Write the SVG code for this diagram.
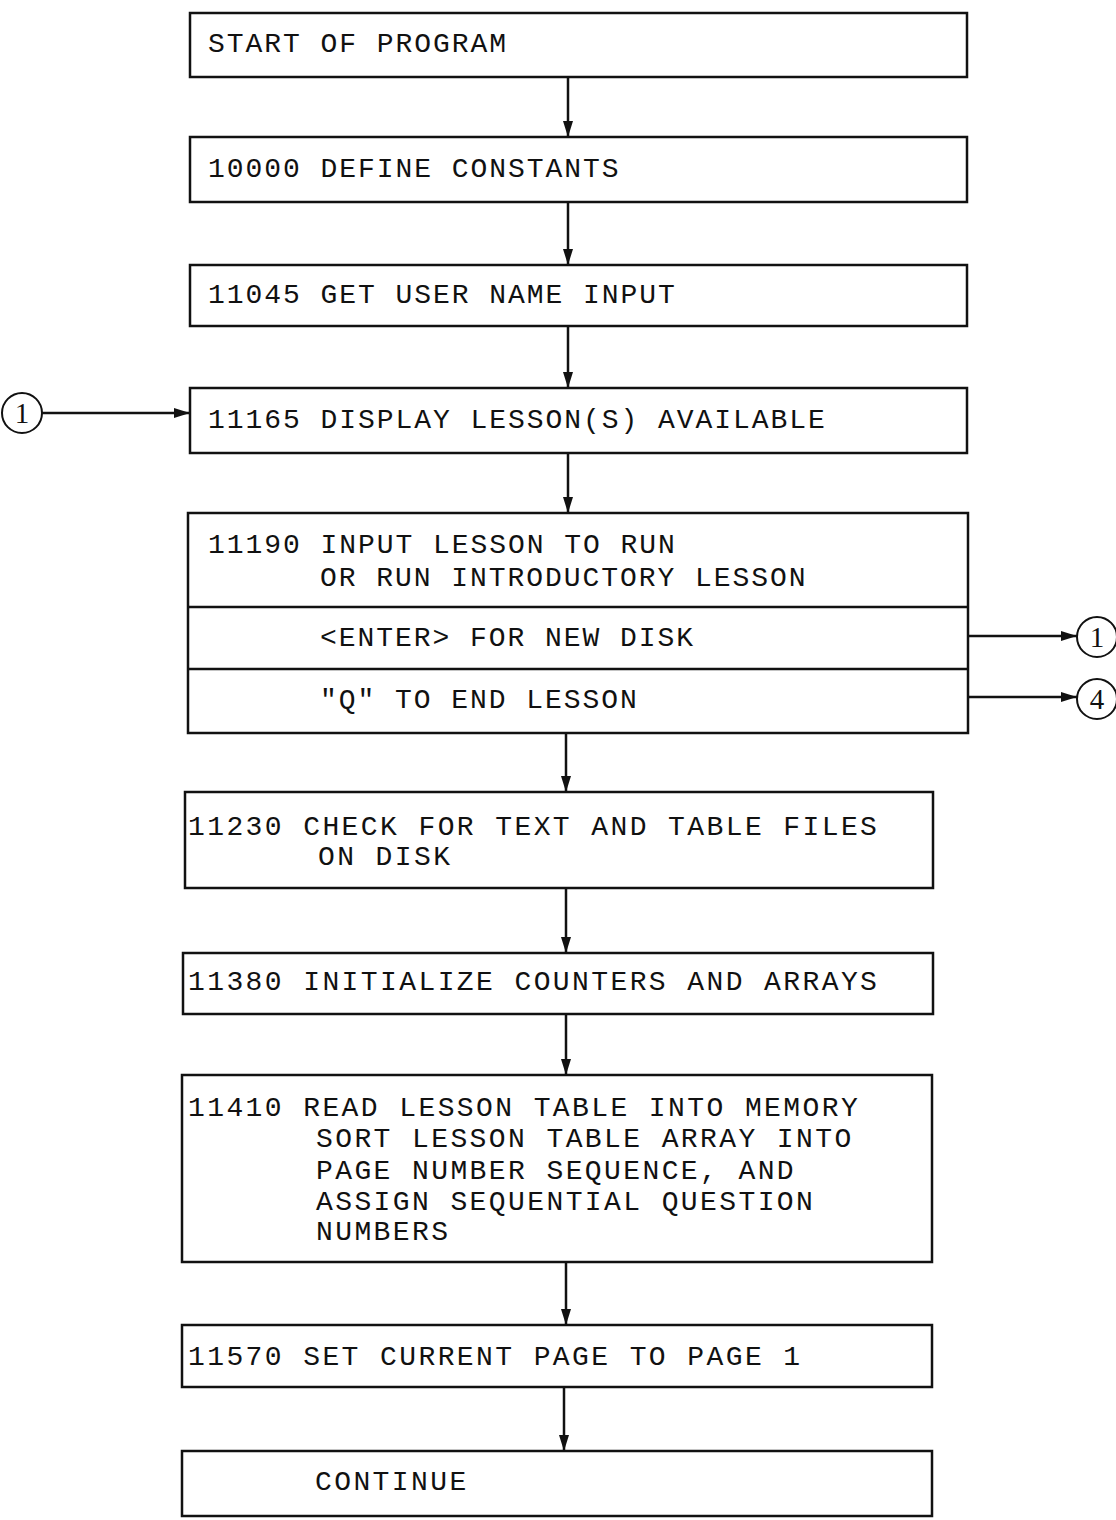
<svg xmlns="http://www.w3.org/2000/svg" width="1116" height="1520" viewBox="0 0 1116 1520">
<style>
.box{fill:#fff;stroke:#111;stroke-width:2.5}
.div{stroke:#111;stroke-width:2.5}
.t{font-family:"Liberation Mono","DejaVu Sans Mono",monospace;font-size:28px;fill:#111;letter-spacing:1.95px}
.t2{font-family:"Liberation Mono","DejaVu Sans Mono",monospace;font-size:28px;fill:#111;letter-spacing:2.4px}
.c{fill:#fff;stroke:#111;stroke-width:2}
.ct{font-family:"Liberation Serif","DejaVu Serif",serif;font-size:29px;fill:#111;text-anchor:middle}
.edge{stroke:#111;stroke-width:2.5;fill:none}
</style>
<defs>
<marker id="ah" markerWidth="16" markerHeight="10" refX="16" refY="5" viewBox="0 0 16 10" orient="auto" markerUnits="userSpaceOnUse">
<path d="M0,0 L16,5 L0,10 Z" fill="#111"/>
</marker>
</defs>
<g id="connectors">
<line class="edge" x1="568" y1="77" x2="568" y2="137" marker-end="url(#ah)"/>
<line class="edge" x1="568" y1="202" x2="568" y2="265" marker-end="url(#ah)"/>
<line class="edge" x1="568" y1="326" x2="568" y2="388" marker-end="url(#ah)"/>
<line class="edge" x1="42" y1="413" x2="190" y2="413" marker-end="url(#ah)"/>
<line class="edge" x1="568" y1="453" x2="568" y2="513" marker-end="url(#ah)"/>
<line class="edge" x1="968" y1="636" x2="1077" y2="636" marker-end="url(#ah)"/>
<line class="edge" x1="968" y1="697" x2="1077" y2="697" marker-end="url(#ah)"/>
<line class="edge" x1="566" y1="733" x2="566" y2="792" marker-end="url(#ah)"/>
<line class="edge" x1="566" y1="888" x2="566" y2="953" marker-end="url(#ah)"/>
<line class="edge" x1="566" y1="1014" x2="566" y2="1075" marker-end="url(#ah)"/>
<line class="edge" x1="566" y1="1262" x2="566" y2="1325" marker-end="url(#ah)"/>
<line class="edge" x1="564" y1="1387" x2="564" y2="1451" marker-end="url(#ah)"/>
</g>
<g id="start">
<rect class="box" x="190" y="13" width="777" height="64"/>
<text class="t" x="208" y="52">START OF PROGRAM</text>
</g>
<g id="n10000">
<rect class="box" x="190" y="137" width="777" height="65"/>
<text class="t" x="208" y="177">10000 DEFINE CONSTANTS</text>
</g>
<g id="n11045">
<rect class="box" x="190" y="265" width="777" height="61"/>
<text class="t" x="208" y="303">11045 GET USER NAME INPUT</text>
</g>
<g id="n11165">
<rect class="box" x="190" y="388" width="777" height="65"/>
<text class="t" x="208" y="428">11165 DISPLAY LESSON(S) AVAILABLE</text>
</g>
<g id="n11190">
<rect class="box" x="188" y="513" width="780" height="220"/>
<line class="div" x1="188" y1="607" x2="968" y2="607"/>
<line class="div" x1="188" y1="669" x2="968" y2="669"/>
<text class="t" x="208" y="553">11190 INPUT LESSON TO RUN</text>
<text class="t" x="320" y="586">OR RUN INTRODUCTORY LESSON</text>
<text class="t" x="320" y="646">&lt;ENTER&gt; FOR NEW DISK</text>
<text class="t" x="320" y="708">"Q" TO END LESSON</text>
</g>
<g id="conn1_in">
<circle class="c" cx="22" cy="413" r="20"/>
<text class="ct" x="22" y="423">1</text>
</g>
<g id="conn1_out">
<circle class="c" cx="1097" cy="637" r="20"/>
<text class="ct" x="1097" y="647">1</text>
</g>
<g id="conn4_out">
<circle class="c" cx="1097" cy="699" r="20"/>
<text class="ct" x="1097" y="709">4</text>
</g>
<g id="n11230">
<rect class="box" x="185" y="792" width="748" height="96"/>
<text class="t2" x="188" y="835">11230 CHECK FOR TEXT AND TABLE FILES</text>
<text class="t2" x="318" y="865">ON DISK</text>
</g>
<g id="n11380">
<rect class="box" x="183" y="953" width="750" height="61"/>
<text class="t2" x="188" y="990">11380 INITIALIZE COUNTERS AND ARRAYS</text>
</g>
<g id="n11410">
<rect class="box" x="182" y="1075" width="750" height="187"/>
<text class="t2" x="188" y="1116">11410 READ LESSON TABLE INTO MEMORY</text>
<text class="t2" x="316" y="1147">SORT LESSON TABLE ARRAY INTO</text>
<text class="t2" x="316" y="1179">PAGE NUMBER SEQUENCE, AND</text>
<text class="t2" x="316" y="1210">ASSIGN SEQUENTIAL QUESTION</text>
<text class="t2" x="316" y="1240">NUMBERS</text>
</g>
<g id="n11570">
<rect class="box" x="182" y="1325" width="750" height="62"/>
<text class="t2" x="188" y="1365">11570 SET CURRENT PAGE TO PAGE 1</text>
</g>
<g id="continue">
<rect class="box" x="182" y="1451" width="750" height="65"/>
<text class="t2" x="315" y="1490">CONTINUE</text>
</g>
</svg>
